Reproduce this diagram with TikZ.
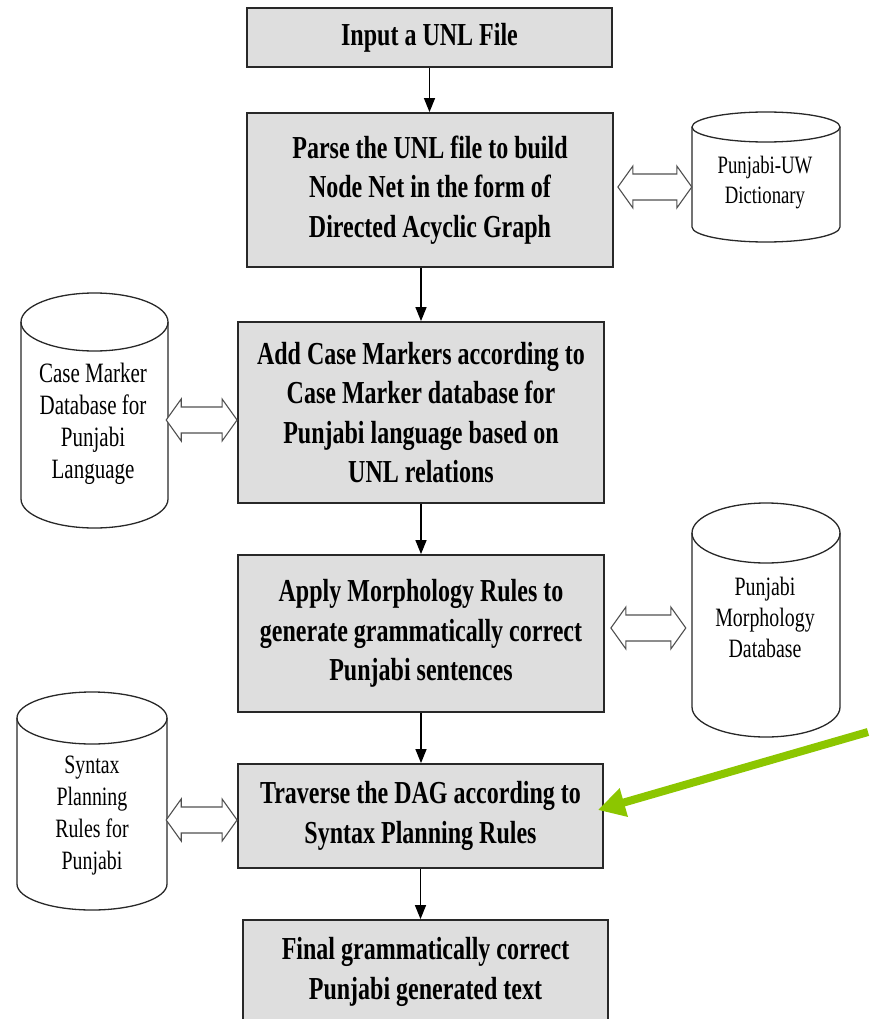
\documentclass[tikz,border=0pt]{standalone}
\usepackage{fontspec}
\setmainfont{Liberation Serif}[FakeStretch=0.75]
\usetikzlibrary{arrows.meta,calc}
\definecolor{boxfill}{RGB}{222,222,222}
\definecolor{lgreen}{RGB}{140,198,0}
\definecolor{edgecol}{RGB}{40,40,40}
\definecolor{dblcol}{RGB}{80,80,80}
\newcommand\cylshape[6]{% name, L, R, T, B, r  (T,B measured downward)
  \pgfmathsetmacro\cylcx{(#2+#3)/2}%
  \pgfmathsetmacro\cylrx{(#3-#2)/2}%
  \pgfmathsetmacro\cylcy{-(#4+#5)/2}%
  \pgfmathsetmacro\cylw{#3-#2}%
  \pgfmathsetmacro\cylh{#5-#4}%
  \node[cylbody, minimum width=\cylw pt, minimum height=\cylh pt] (#1) at (\cylcx,\cylcy) {};
  \draw[cylline] (\cylcx,-#4-#6) ellipse [x radius=\cylrx, y radius=#6];
  \draw[cylline] (#2,-#4-#6) -- (#2,-#5+#6)
     arc[start angle=180, end angle=360, x radius=\cylrx, y radius=#6] -- (#3,-#4-#6);
}
\newcommand\hollowarrow[2]{%
  \draw[dblarrow] let \p1=(#1), \p2=(#2) in
    (\x1,\y1) -- ++(15,21) -- ++(0,-8) -- (\x2-15,\y1+13) -- ++(0,8) -- (\x2,\y2)
    -- ++(-15,-21) -- ++(0,8) -- (\x1+15,\y1-13) -- ++(0,-8) -- cycle;
}
\begin{document}
\begin{tikzpicture}[x=1pt,y=1pt,
  procbox/.style={draw=edgecol, line width=1.8pt, fill=boxfill, inner sep=0pt,
     align=center, font=\fontsize{32}{39.5}\selectfont\bfseries},
  cylbody/.style={inner sep=0pt, draw=none},
  cylline/.style={draw=edgecol, line width=1.3pt},
  cyltext/.style={align=center, inner sep=0pt},
  dblarrow/.style={draw=dblcol, line width=1.1pt, fill=white, line join=miter},
  flow/.style={draw=black, line width=1.3pt, -{Triangle[length=14pt,width=11pt]}},
  greenarrow/.style={draw=lgreen, line width=8pt, -{Triangle[length=27pt,width=28pt]}}
]
\useasboundingbox (0,0) rectangle (872,-1019);

% process boxes
\node[procbox, minimum width=365pt, minimum height=59pt] (b1) at (429.5,-37.5) {Input a UNL File};
\node[procbox, minimum width=366pt, minimum height=154pt] (b2) at (430,-190)
  {Parse the UNL file to build\\Node Net in the form of\\Directed Acyclic Graph};
\node[procbox, minimum width=366pt, minimum height=181pt] (b3) at (421,-412.5)
  {Add Case Markers according to\\Case Marker database for\\Punjabi language based on\\UNL relations};
\node[procbox, minimum width=366pt, minimum height=157pt] (b4) at (421,-633.5)
  {Apply Morphology Rules to\\generate grammatically correct\\Punjabi sentences};
\node[procbox, minimum width=365pt, minimum height=104pt] (b5) at (420.5,-816)
  {Traverse the DAG according to\\Syntax Planning Rules};
\node[procbox, minimum width=365pt, minimum height=104pt] (b6) at (425.5,-972)
  {Final grammatically correct\\Punjabi generated text};

% databases
\cylshape{c1}{692}{840}{112}{242}{15}
\cylshape{c2}{21}{168}{293}{528}{29}
\cylshape{c3}{692}{840}{503}{737}{30}
\cylshape{c4}{17}{167}{692}{910}{26}
\node[cyltext, font=\fontsize{25}{30}\selectfont] (t1) at (765,-183) {Punjabi-UW\\Dictionary};
\node[cyltext, font=\fontsize{28}{32}\selectfont] (t2) at (93,-424) {Case Marker\\Database for\\Punjabi\\Language};
\node[cyltext, font=\fontsize{26.5}{31}\selectfont] (t3) at (765,-617) {Punjabi\\Morphology\\Database};
\node[cyltext, font=\fontsize{26.5}{32}\selectfont] (t4) at (92,-816) {Syntax\\Planning\\Rules for\\Punjabi};

% flow arrows
\draw[flow] (b1.south) -- (b1.south |- b2.north);
\draw[flow] (b3.north |- b2.south) -- (b3.north);
\draw[flow] (b3.south) -- (b4.north);
\draw[flow] (b4.south) -- (b4.south |- b5.north);
\draw[flow] (b5.south) -- (b5.south |- b6.north);

% hollow double arrows
\coordinate (d1a) at ($(b2.east)+(4,3)$);
\coordinate (d1b) at (c1.west |- d1a);
\hollowarrow{d1a}{d1b}
\coordinate (d2a) at ($(c2.east)+(-2,-9.5)$);
\coordinate (d2b) at (b3.west |- d2a);
\hollowarrow{d2a}{d2b}
\coordinate (d3a) at ($(b4.east)+(6,5.5)$);
\coordinate (d3b) at ($(c3.west |- d3a)+(-6,0)$);
\hollowarrow{d3a}{d3b}
\coordinate (d4a) at ($(c4.east)+(-1,-19)$);
\coordinate (d4b) at (b5.west |- d4a);
\hollowarrow{d4a}{d4b}

% green pointer
\coordinate (gs) at (868,-732);
\coordinate (gt) at ($(b5.east)+(-6,6)$);
\draw[greenarrow] (gs) -- (gt);
\end{tikzpicture}
\end{document}
